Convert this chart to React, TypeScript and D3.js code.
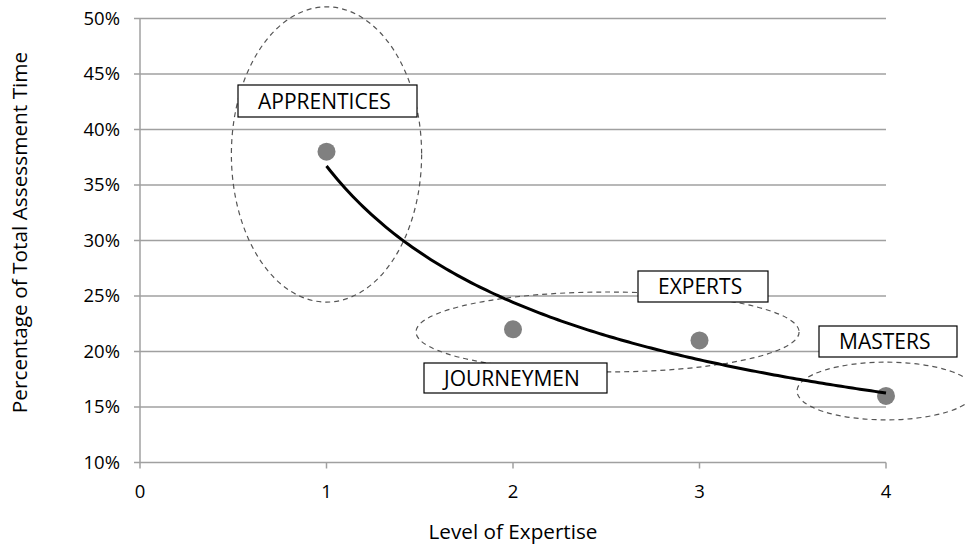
import React from "react";
import * as d3 from "d3";

// Data
const levels = [1, 2, 3, 4];
const shares = [0.38, 0.22, 0.21, 0.16];
const xTicks = [0, 1, 2, 3, 4];
const yTicks = [0.1, 0.15, 0.2, 0.25, 0.3, 0.35, 0.4, 0.45, 0.5];
const groupNames = ["APPRENTICES", "JOURNEYMEN", "EXPERTS", "MASTERS"];
// ellipses around groups in data units: [cx, cy, rx, ry]
const groupEllipses: [number, number, number, number][] = [
  [1.0, 0.3775, 0.51, 0.133],
  [2.507, 0.2176, 1.027, 0.036],
  [4.0, 0.1644, 0.477, 0.026],
];

const W = 965;
const H = 546;
const FONT = "'Open Sans', 'Noto Sans', sans-serif";

export default function App() {
  const x = d3.scaleLinear().domain([0, 4]).range([140, 886]);
  const y = d3.scaleLinear().domain([0.1, 0.5]).range([462.5, 18.5]);

  // power trendline fit (Excel style): y = a * x^b
  const lx = levels.map(Math.log);
  const ly = shares.map(Math.log);
  const mx = d3.mean(lx)!;
  const my = d3.mean(ly)!;
  const b =
    d3.sum(lx.map((v, i) => (v - mx) * (ly[i] - my))) /
    d3.sum(lx.map((v) => (v - mx) * (v - mx)));
  const a = Math.exp(my - b * mx);
  const trendX = d3.range(1, 4.0001, 0.02);
  const line = d3
    .line<number>()
    .x((d) => x(d))
    .y((d) => y(a * Math.pow(d, b)))
    .curve(d3.curveLinear);

  const fmt = d3.format(".0%");

  // label boxes: [left, top, width, height]
  const boxes: [number, number, number, number][] = [
    [238, 85, 179, 32],
    [424, 363, 183, 30],
    [638, 271, 130, 31],
    [819, 326, 138, 31],
  ];

  return (
    <svg
      width={W}
      height={H}
      style={{ position: "absolute", left: 0, top: 0, background: "#fff" }}
      fontFamily={FONT}
    >
      <rect x={0} y={0} width={W} height={H} fill="#fff" />
      {/* gridlines */}
      {yTicks.map((t) => (
        <line
          key={t}
          x1={134}
          x2={x(4)}
          y1={y(t)}
          y2={y(t)}
          stroke="#a0a0a0"
          strokeWidth={1.5}
        />
      ))}
      {/* y axis */}
      <line x1={x(0)} x2={x(0)} y1={y(0.5)} y2={y(0.1)} stroke="#a0a0a0" strokeWidth={1.5} />
      {/* x axis ticks */}
      {xTicks.map((t) => (
        <line
          key={t}
          x1={x(t)}
          x2={x(t)}
          y1={y(0.1)}
          y2={y(0.1) + 6}
          stroke="#a0a0a0"
          strokeWidth={1.5}
        />
      ))}
      {/* y tick labels */}
      {yTicks.map((t) => (
        <text
          key={t}
          x={120}
          y={y(t)}
          dy="0.35em"
          textAnchor="end"
          fontSize={18.5}
          fill="#000"
        >
          {fmt(t)}
        </text>
      ))}
      {/* x tick labels */}
      {xTicks.map((t) => (
        <text key={t} x={x(t)} y={498} textAnchor="middle" fontSize={18.5} fill="#000">
          {t}
        </text>
      ))}
      {/* axis titles */}
      <text x={x(2)} y={539} textAnchor="middle" fontSize={20.7} fill="#000">
        Level of Expertise
      </text>
      <text
        transform={`translate(27, 232.5) rotate(-90)`}
        textAnchor="middle"
        fontSize={20.8}
        fill="#000"
      >
        Percentage of Total Assessment Time
      </text>
      {/* ellipses */}
      {groupEllipses.map(([cx, cy, rx, ry], i) => (
        <ellipse
          key={i}
          cx={x(cx)}
          cy={y(cy)}
          rx={x(rx) - x(0)}
          ry={y(0.1) - y(0.1 + ry)}
          fill="none"
          stroke="#555"
          strokeWidth={1.2}
          strokeDasharray="5,4"
        />
      ))}
      {/* points */}
      {levels.map((l, i) => (
        <circle key={l} cx={x(l)} cy={y(shares[i])} r={9} fill="#808080" />
      ))}
      {/* trendline */}
      <path d={line(trendX) || ""} fill="none" stroke="#000" strokeWidth={3} />
      {/* label boxes */}
      {groupNames.map((n, i) => {
        const [bx, by, bw, bh] = boxes[i];
        return (
          <g key={n}>
            <rect x={bx} y={by} width={bw} height={bh} fill="#fff" stroke="#000" strokeWidth={1.2} />
            <text x={bx + 20} y={by + bh / 2} dy="0.36em" fontSize={21} fill="#000">
              {n}
            </text>
          </g>
        );
      })}
    </svg>
  );
}
